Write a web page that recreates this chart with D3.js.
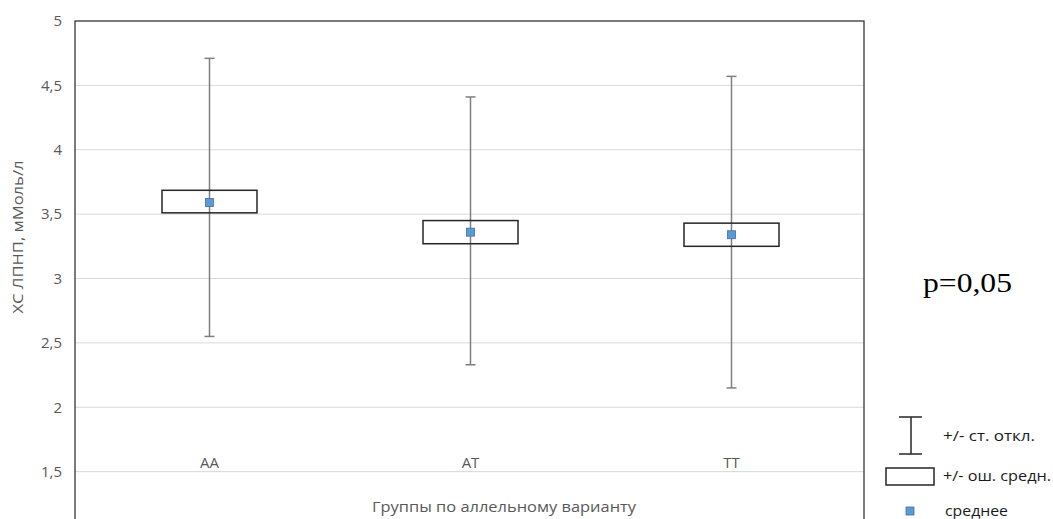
<!DOCTYPE html>
<html>
<head>
<meta charset="utf-8">
<script src="https://cdn.jsdelivr.net/npm/d3@7"></script>
<style>
  body { margin: 0; background: #fff; }
  svg { display: block; font-family: "Open Sans", sans-serif; }
</style>
</head>
<body>
<div id="chart"></div>
<script>
const groups = ["AA", "AT", "TT"];
const means = [3.59, 3.36, 3.34];
const seLow = [3.51, 3.27, 3.25];
const seHigh = [3.685, 3.45, 3.43];
const sdLow = [2.55, 2.33, 2.15];
const sdHigh = [4.71, 4.41, 4.57];
const yTicks = [1.5, 2, 2.5, 3, 3.5, 4, 4.5, 5];

const W = 1053, H = 519;
const plot = { left: 75, right: 864, top: 21, bottom: 536 };

const svg = d3.select("#chart").append("svg")
  .attr("width", W).attr("height", H);

const x = d3.scaleBand().domain(groups).range([79, 862]);
const y = d3.scaleLinear().domain([1, 5]).range([plot.bottom, plot.top]);

const fmt = d => String(d).replace(".", ",");

// gridlines
svg.append("g").selectAll("line")
  .data(yTicks.filter(t => t < 5))
  .join("line")
  .attr("x1", plot.left).attr("x2", plot.right)
  .attr("y1", d => y(d)).attr("y2", d => y(d))
  .attr("stroke", "#d9d9d9").attr("stroke-width", 1);

// y axis labels
const yAxis = svg.append("g")
  .attr("transform", `translate(${plot.left},0)`)
  .call(d3.axisLeft(y).tickValues(yTicks).tickFormat(fmt).tickSize(0).tickPadding(13));
yAxis.select(".domain").remove();
yAxis.selectAll("text").attr("fill", "#595959").style("font-size", "15px").style("font-family", "'Open Sans', sans-serif");

// plot frame
svg.append("rect")
  .attr("x", plot.left).attr("y", plot.top)
  .attr("width", plot.right - plot.left).attr("height", plot.bottom - plot.top)
  .attr("fill", "none").attr("stroke", "#262626").attr("stroke-width", 1.2);

// y title
svg.append("text")
  .attr("transform", `translate(23,237) rotate(-90)`)
  .attr("text-anchor", "middle")
  .attr("fill", "#595959").style("font-size", "14px")
  .attr("textLength", 153).attr("lengthAdjust", "spacingAndGlyphs")
  .text("ХС ЛПНП, мМоль/л");

// category labels
svg.append("g").selectAll("text")
  .data(groups)
  .join("text")
  .attr("x", d => x(d) + x.bandwidth() / 2)
  .attr("y", 468)
  .attr("text-anchor", "middle")
  .attr("fill", "#595959").style("font-size", "15px")
  .text(d => d);

svg.append("text")
  .attr("x", 504).attr("y", 512)
  .attr("text-anchor", "middle")
  .attr("fill", "#595959").style("font-size", "14px")
  .attr("textLength", 264).attr("lengthAdjust", "spacingAndGlyphs")
  .text("Группы по аллельному варианту");

const data = groups.map((g, i) => ({
  g, mean: means[i], seLow: seLow[i], seHigh: seHigh[i], sdLow: sdLow[i], sdHigh: sdHigh[i]
}));
const cx = d => x(d.g) + x.bandwidth() / 2;
const boxW = 95, capW = 10;

const marks = svg.append("g").selectAll("g").data(data).join("g");

marks.append("line")
  .attr("x1", cx).attr("x2", cx)
  .attr("y1", d => y(d.sdHigh)).attr("y2", d => y(d.sdLow))
  .attr("stroke", "#7f7f7f").attr("stroke-width", 1.5);
marks.append("line")
  .attr("x1", d => cx(d) - capW / 2).attr("x2", d => cx(d) + capW / 2)
  .attr("y1", d => y(d.sdHigh)).attr("y2", d => y(d.sdHigh))
  .attr("stroke", "#7f7f7f").attr("stroke-width", 1.5);
marks.append("line")
  .attr("x1", d => cx(d) - capW / 2).attr("x2", d => cx(d) + capW / 2)
  .attr("y1", d => y(d.sdLow)).attr("y2", d => y(d.sdLow))
  .attr("stroke", "#7f7f7f").attr("stroke-width", 1.5);

marks.append("rect")
  .attr("x", d => cx(d) - boxW / 2).attr("width", boxW)
  .attr("y", d => y(d.seHigh)).attr("height", d => y(d.seLow) - y(d.seHigh))
  .attr("fill", "none").attr("stroke", "#262626").attr("stroke-width", 1.5);

marks.append("rect")
  .attr("x", d => cx(d) - 4).attr("y", d => y(d.mean) - 4)
  .attr("width", 8).attr("height", 8)
  .attr("fill", "#5b9bd5").attr("stroke", "#41719c").attr("stroke-width", 0.8);

// p value
svg.append("text")
  .attr("x", 923).attr("y", 292)
  .style("font-family", "'Liberation Serif', 'Times New Roman', serif")
  .style("font-size", "27px").attr("fill", "#000")
  .attr("textLength", 89).attr("lengthAdjust", "spacingAndGlyphs")
  .text("p=0,05");

// legend
const leg = svg.append("g");
leg.append("line").attr("x1", 911).attr("x2", 911).attr("y1", 417).attr("y2", 454)
  .attr("stroke", "#262626").attr("stroke-width", 1.5);
leg.append("line").attr("x1", 899).attr("x2", 922).attr("y1", 417).attr("y2", 417)
  .attr("stroke", "#262626").attr("stroke-width", 1.5);
leg.append("line").attr("x1", 899).attr("x2", 922).attr("y1", 454).attr("y2", 454)
  .attr("stroke", "#262626").attr("stroke-width", 1.5);
leg.append("rect").attr("x", 886).attr("y", 468).attr("width", 48).attr("height", 17)
  .attr("fill", "none").attr("stroke", "#262626").attr("stroke-width", 1.5);
leg.append("rect").attr("x", 906).attr("y", 507).attr("width", 8).attr("height", 8)
  .attr("fill", "#5b9bd5").attr("stroke", "#41719c").attr("stroke-width", 0.8);

const legLabels = ["+/- ст. откл.", "+/- ош. средн.", "среднее"];
const legY = [441, 481, 516];
const legX = [943, 943, 945];
const legLen = [92, 108, 63];
leg.selectAll("text.lab").data(legLabels).join("text")
  .attr("class", "lab")
  .attr("x", (d, i) => legX[i])
  .attr("y", (d, i) => legY[i])
  .attr("fill", "#1a1a1a").style("font-size", "15px")
  .attr("textLength", (d, i) => legLen[i]).attr("lengthAdjust", "spacingAndGlyphs")
  .text(d => d);
</script>
</body>
</html>
